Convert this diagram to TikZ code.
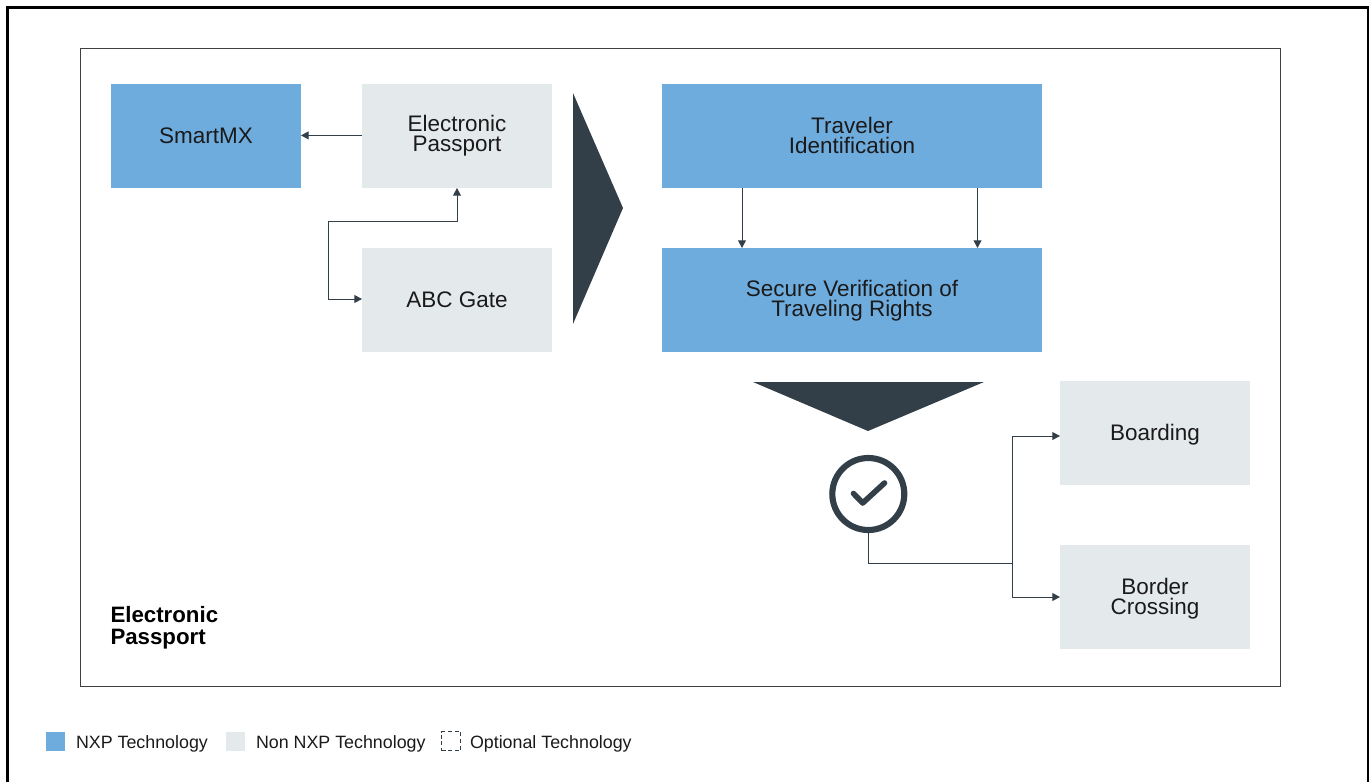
\documentclass[tikz,border=0pt]{standalone}
\usepackage{fontspec}
\setmainfont{Liberation Sans}
\usetikzlibrary{arrows.meta,calc}
\definecolor{nxpblue}{HTML}{6FACDE}
\definecolor{nongray}{HTML}{E4E9EC}
\definecolor{slate}{HTML}{333F48}
\definecolor{ink}{HTML}{1A1A1A}
\newcommand{\liftlines}[2]{\raisebox{#1}[\height][\depth]{\begin{minipage}[c]{130pt}\centering #2\end{minipage}}}
\newcommand{\liftwide}[2]{\raisebox{#1}[\height][\depth]{\begin{minipage}[c]{250pt}\centering #2\end{minipage}}}
\tikzset{
  x=0.75pt,y=-0.75pt,
  box/.style={minimum height=78pt,inner sep=0pt,outer sep=0pt,text=ink,align=center,
    font=\fontsize{16.85}{15}\selectfont},
  small/.style={box,minimum width=142.5pt},
  wide/.style={box,minimum width=285pt},
  nxp/.style={fill=nxpblue},
  non/.style={fill=nongray},
  link/.style={draw=slate,line width=0.75pt},
  arrow/.style={link,-{Triangle[length=5.8pt,width=6pt]}},
  biarrow/.style={link,{Triangle[length=5.8pt,width=6pt]}-{Triangle[length=5.8pt,width=6pt]}},
  legendtext/.style={inner sep=0pt,outer sep=0pt,anchor=west,text=ink,font=\fontsize{13.38}{15}\selectfont},
  legendkey/.style={minimum width=14.25pt,minimum height=14.25pt,inner sep=0pt,outer sep=0pt},
  pointer/.style={fill=slate,draw=none},
}
\begin{document}
\begin{tikzpicture}
\useasboundingbox (0,0) rectangle (1370,782);
% outer and inner frames
\draw[black,line width=2.2pt] (7.5,782) -- (7.5,7.5) -- (1368,7.5) -- (1368,782);
\node[draw=black!75,line width=0.9pt,minimum width=900.5pt,minimum height=478.5pt,inner sep=0pt,outer sep=0pt] (frame) at (680.5,367.5) {};
% boxes
\node[small,nxp] (smartmx) at (206,136) {SmartMX};
\node[small,non] (epass) at (457,136) {Electronic\\Passport};
\node[small,non] (abc) at (457,300) {ABC Gate};
\node[wide,nxp] (traveler) at (852,136) {\liftwide{0.75pt}{Traveler\\Identification}};
\node[wide,nxp] (secure) at (852,300) {\liftwide{-0.75pt}{Secure Verification of\\Traveling Rights}};
\node[small,non] (boarding) at (1155,433) {\liftlines{-1.5pt}{Boarding}};
\node[small,non] (border) at (1155,597) {\liftlines{-1.5pt}{Border\\Crossing}};
% pointers
\fill[pointer] (573,93) -- (623,208) -- (573,324) -- cycle;
\fill[pointer] (753,382) -- (984,382) -- (868,431) -- cycle;
% check mark
\node[circle,draw=slate,line width=4.6pt,minimum size=54pt,inner sep=0pt,outer sep=2.3pt] (check) at (868.3,494) {};
\draw[slate,line width=4.2pt,line cap=round,line join=round] (853.5,493.5) -- (862.7,503) -- (884.5,483);
% connectors
\coordinate (busA) at (328,221);
\coordinate (busB) at (1012,563);
\coordinate (tl) at (742,188);
\coordinate (tr) at (977.5,188);
\coordinate (boardin) at (1060,436);
\coordinate (abcin) at (362,299);
\coordinate (epout) at (362,135.4);
\coordinate (smin) at (301,135.4);
\draw[arrow] (epout) -- (smin);
\draw[biarrow] (epass.south) |- (busA) |- (abcin);
\draw[arrow] (tl) -- (tl |- secure.north);
\draw[arrow] (tr) -- (tr |- secure.north);
\draw[link] (check.south) |- (busB);
\draw[arrow] (busB) |- (boardin);
\draw[arrow] (busB) |- (border.west);
% title
\node[inner sep=0pt,outer sep=0pt,anchor=west,align=left,text=black,font=\fontsize{16.7}{16.5}\selectfont\bfseries] (title) at (110.5,628) {Electronic\\Passport};
% legend
\node[legendkey,fill=nxpblue] (k1) at (55.5,741.5) {};
\node[legendtext] (t1) at (76,744) {NXP Technology};
\node[legendkey,fill=nongray] (k2) at (235.5,741.5) {};
\node[legendtext] (t2) at (256,744) {Non NXP Technology};
\node[legendkey,draw=slate,densely dashed,line width=0.5pt] (k3) at (451,741) {};
\node[legendtext] (t3) at (470,744) {Optional Technology};
\end{tikzpicture}
\end{document}
